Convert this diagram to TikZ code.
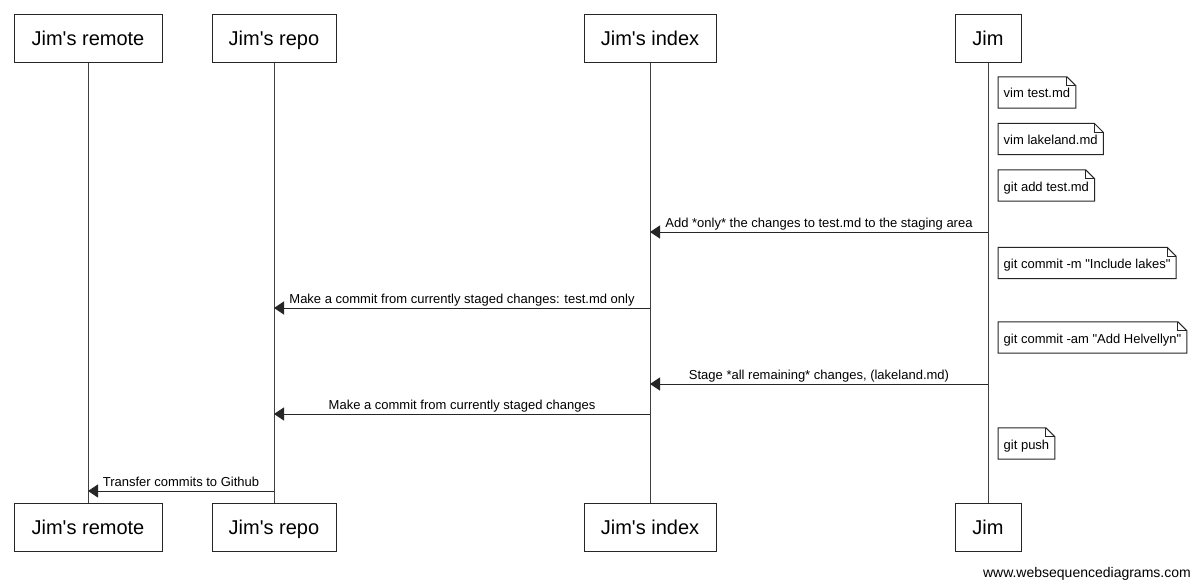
\documentclass[tikz,border=0pt]{standalone}
\usepackage{fontspec}
\setmainfont{Liberation Sans}[Ligatures=TeXOff]
\usetikzlibrary{arrows.meta,calc}
\tikzset{
  actor/.style={draw=black!85, line width=1pt, fill=white, minimum height=48pt, inner xsep=0pt, text height=14pt, text depth=0pt, font=\fontsize{20}{24}\selectfont},
  life/.style={draw=black!75, line width=1pt},
  msg/.style={draw=black!85, line width=1pt, -{Triangle[length=10pt,width=13pt]}},
  lbl/.style={font=\fontsize{13}{15}\selectfont, inner sep=0pt, anchor=base, yshift=5pt},
  notetext/.style={font=\fontsize{13}{15}\selectfont, inner xsep=5.5pt, inner ysep=0pt, minimum height=31pt, text height=11pt, text depth=0pt, anchor=west},
  notel/.style={draw=black!85, line width=1pt, line join=miter},
}
\newcommand\jimnote[3]{%
  \node[notetext] (#1) at (998,#2) {#3};
  \draw[notel] (#1.north west) -- ([xshift=-9pt]#1.north east) -- ([yshift=-9pt]#1.north east) -- (#1.south east) -- (#1.south west) -- cycle;
  \draw[notel] ([xshift=-9pt]#1.north east) |- ([yshift=-9pt]#1.north east);
}
\begin{document}
\begin{tikzpicture}[x=1pt,y=-1pt]
\fill[white] (0,0) rectangle (1200,586);
\useasboundingbox (0,0) rectangle (1200,586);

% actors top
\node[actor, minimum width=148pt] (rT) at (88,39) {Jim's remote};
\node[actor, minimum width=124pt] (pT) at (274,39) {Jim's repo};
\node[actor, minimum width=132pt] (iT) at (650,39) {Jim's index};
\node[actor, minimum width=66pt]  (jT) at (988,39) {Jim};
% actors bottom
\node[actor, minimum width=148pt] (rB) at (88,527) {Jim's remote};
\node[actor, minimum width=124pt] (pB) at (274,527) {Jim's repo};
\node[actor, minimum width=132pt] (iB) at (650,527) {Jim's index};
\node[actor, minimum width=66pt]  (jB) at (988,527) {Jim};

% lifelines
\draw[life] (rT.south) -- (rB.north);
\draw[life] (pT.south) -- (pB.north);
\draw[life] (iT.south) -- (iB.north);
\draw[life] (jT.south) -- (jB.north);

% notes
\jimnote{n1}{92.5}{vim test.md}
\jimnote{n2}{139}{vim lakeland.md}
\jimnote{n3}{185.5}{git add test.md}
\jimnote{n4}{263}{git commit -m "Include lakes"}
\jimnote{n5}{337.5}{git commit -am "Add Helvellyn"}
\jimnote{n6}{443.5}{git push}

% message end points
\coordinate (m1s) at (988,232); \coordinate (m1e) at (650,232);
\coordinate (m2s) at (650,308); \coordinate (m2e) at (274,308);
\coordinate (m3s) at (988,384); \coordinate (m3e) at (650,384);
\coordinate (m4s) at (650,414); \coordinate (m4e) at (274,414);
\coordinate (m5s) at (274,491); \coordinate (m5e) at (88,491);

\draw[msg] (m1s) -- node[lbl] {Add *only* the changes to test.md to the staging area} (m1e);
\draw[msg] (m2s) -- node[lbl] {Make a commit from currently staged changes: test.md only} (m2e);
\draw[msg] (m3s) -- node[lbl] {Stage *all remaining* changes, (lakeland.md)} (m3e);
\draw[msg] (m4s) -- node[lbl] {Make a commit from currently staged changes} (m4e);
\draw[msg] (m5s) -- node[lbl] {Transfer commits to Github} (m5e);

\node[font=\fontsize{14}{16}\selectfont, inner sep=0pt, anchor=base east] (foot) at (1191,577) {www.websequencediagrams.com};
\end{tikzpicture}
\end{document}
